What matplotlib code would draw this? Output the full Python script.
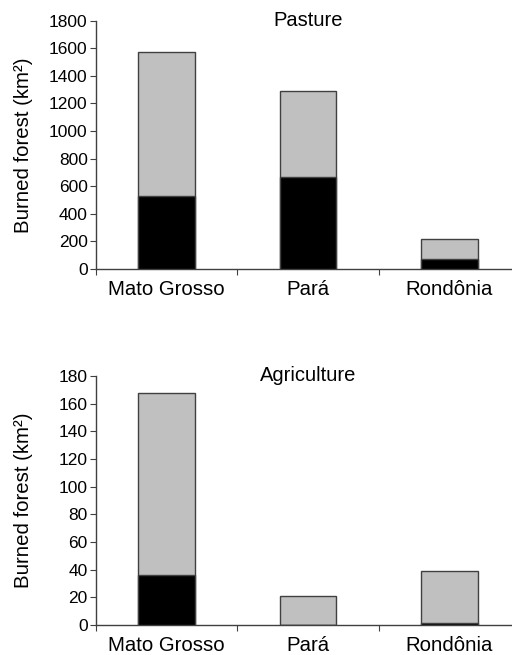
import numpy as np
import matplotlib.pyplot as plt

plt.rcParams['font.family'] = ['Liberation Sans', 'DejaVu Sans']

states = ['Mato Grosso', 'Pará', 'Rondônia']

# Pasture: burned forest (km²), black = lower part, grey = total
pasture_total = [1575, 1288, 214]
pasture_black = [524, 665, 68]

# Agriculture
agri_total = [167.5, 21.2, 39.3]
agri_black = [36.2, 0, 1.2]

fig = plt.figure(figsize=(5.12, 6.55), dpi=100)


def draw_panel(ax, total, black, ymax, ystep, title):
    x = np.arange(len(states))
    w = 0.4
    ax.bar(x, total, width=w, color='#c0c0c0', edgecolor='#404040', linewidth=1.0, zorder=2)
    ax.bar(x, black, width=w, color='black', edgecolor='#404040', linewidth=1.0, zorder=3)
    ax.set_xlim(-0.5, 2.5)
    ax.set_ylim(0, ymax)
    ax.set_yticks(np.arange(0, ymax + 1, ystep))
    ax.set_xticks([-0.5, 0.5, 1.5, 2.5])
    ax.set_xticklabels([])
    ax.set_xticks(x, minor=True)
    ax.set_xticklabels(states, minor=True, fontsize=14.7)
    ax.tick_params(axis='x', which='minor', length=0, pad=8)
    ax.tick_params(axis='x', which='major', length=4, direction='out', color='#404040')
    ax.tick_params(axis='y', length=4, direction='out', labelsize=12.5, pad=2, color='#404040')
    for s in ['top', 'right']:
        ax.spines[s].set_visible(False)
    for s in ['left', 'bottom']:
        ax.spines[s].set_color('#404040')
        ax.spines[s].set_linewidth(1.0)
    ax.set_ylabel('Burned forest (km²)', fontsize=14.7)
    ax.yaxis.set_label_coords(-0.149, 0.5)
    ax.text(1.0, ymax, title, ha='center', va='center', fontsize=14.5)


ax1 = fig.add_axes([0.1875, 0.590, 0.828, 0.378])
draw_panel(ax1, pasture_total, pasture_black, 1800, 200, 'Pasture')

ax2 = fig.add_axes([0.1875, 0.046, 0.828, 0.380])
draw_panel(ax2, agri_total, agri_black, 180, 20, 'Agriculture')

fig.savefig('out.png', dpi=100)
